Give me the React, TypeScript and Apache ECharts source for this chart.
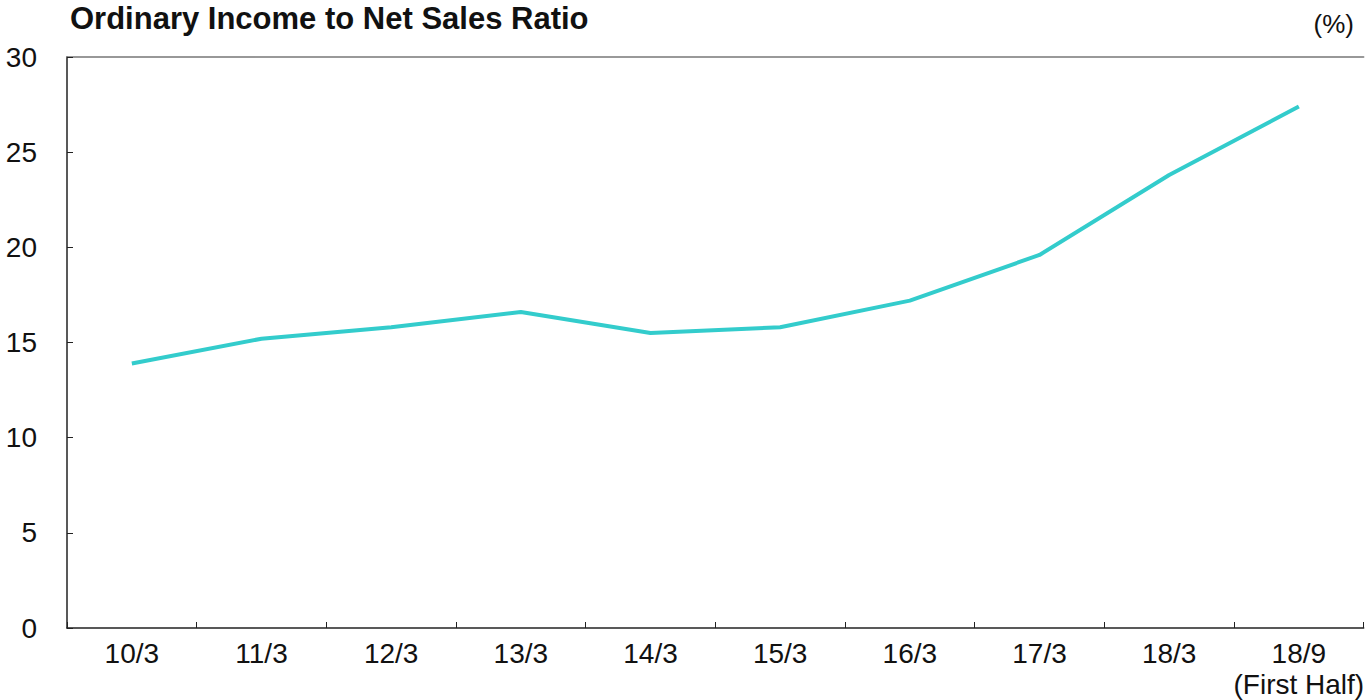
import React, { useEffect, useRef } from "react";
import * as echarts from "echarts";

const titleText = "Ordinary Income to Net Sales Ratio";
const unitText = "(%)";
const categories = ["10/3", "11/3", "12/3", "13/3", "14/3", "15/3", "16/3", "17/3", "18/3", "18/9\n(First Half)"];
const ratioValues = [13.9, 15.2, 15.8, 16.6, 15.5, 15.8, 17.2, 19.6, 23.8, 27.4];
const yTicks = { min: 0, max: 30, interval: 5 };

const FONT = "'Liberation Sans Narrow', 'Liberation Sans', 'DejaVu Sans Condensed', sans-serif";

export default function App() {
  const ref = useRef<HTMLDivElement>(null);
  useEffect(() => {
    if (!ref.current) return;
    const chart = echarts.init(ref.current, null, { renderer: "svg" });
    chart.setOption({
      animation: false,
      backgroundColor: "#ffffff",
      textStyle: { fontFamily: FONT },
      grid: { left: 67, right: 0, top: 57, bottom: 70, containLabel: false },
      graphic: [
        {
          type: "text",
          left: 70,
          top: 3,
          style: { text: titleText, font: `bold 31px ${FONT}`, fill: "#111" },
        },
        {
          type: "text",
          right: 13,
          top: 11,
          style: { text: unitText, font: `400 26px ${FONT}`, fill: "#111" },
        },
      ],
      xAxis: [
        {
          type: "category",
          data: categories,
          boundaryGap: true,
          axisLine: { show: true, lineStyle: { color: "#222", width: 1.5 } },
          axisTick: { show: true, inside: true, length: 6, lineStyle: { color: "#222" } },
          axisLabel: {
            color: "#111",
            fontSize: 28,
            fontFamily: FONT,
            margin: 10,
            lineHeight: 31,
            interval: 0,
          },
          splitLine: { show: false },
        },
        {
          type: "category",
          position: "top",
          data: categories,
          axisLine: { show: true, lineStyle: { color: "#777", width: 1.5 } },
          axisTick: { show: false },
          axisLabel: { show: false },
        },
      ],
      yAxis: {
        type: "value",
        min: yTicks.min,
        max: yTicks.max,
        interval: yTicks.interval,
        axisLine: { show: true, lineStyle: { color: "#222", width: 1.5 } },
        axisTick: { show: true, inside: true, length: 6, lineStyle: { color: "#222" } },
        axisLabel: { color: "#111", fontSize: 28, fontFamily: FONT, margin: 30 },
        splitLine: { show: false },
      },
      series: [
        {
          type: "line",
          data: ratioValues,
          symbol: "none",
          lineStyle: { color: "#33CCCC", width: 4 },
          itemStyle: { color: "#33CCCC" },
        },
      ],
    });
    return () => chart.dispose();
  }, []);
  return (
    <div
      ref={ref}
      style={{ position: "fixed", left: 0, top: 0, width: 1367, height: 700 }}
    />
  );
}
